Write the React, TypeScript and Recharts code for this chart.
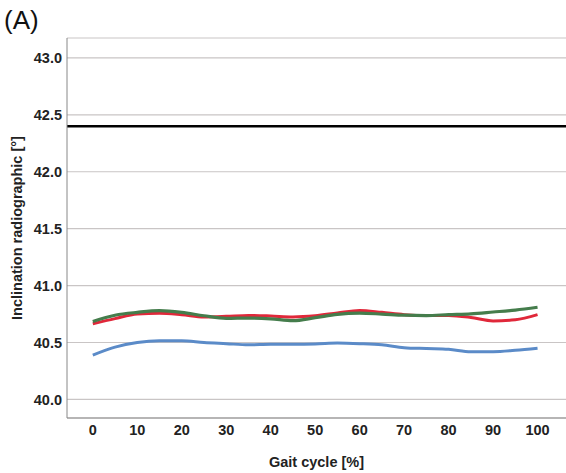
import React from 'react'
import { LineChart, Line, XAxis, YAxis, CartesianGrid, ReferenceLine } from 'recharts'

const gait = [0, 5, 10, 15, 20, 25, 30, 35, 40, 45, 50, 55, 60, 65, 70, 75, 80, 85, 90, 95, 100]
const blueSeries = [40.39, 40.46, 40.5, 40.515, 40.515, 40.5, 40.49, 40.48, 40.485, 40.485, 40.487, 40.495, 40.49, 40.48, 40.455, 40.447, 40.44, 40.418, 40.42, 40.432, 40.45]
const redSeries = [40.665, 40.71, 40.75, 40.758, 40.745, 40.725, 40.73, 40.738, 40.733, 40.725, 40.735, 40.76, 40.782, 40.765, 40.745, 40.737, 40.737, 40.72, 40.69, 40.7, 40.745]
const greenSeries = [40.685, 40.74, 40.765, 40.78, 40.765, 40.735, 40.712, 40.715, 40.708, 40.692, 40.718, 40.748, 40.758, 40.75, 40.74, 40.737, 40.745, 40.752, 40.768, 40.785, 40.81]
const referenceValue = 42.4
const yTicks = [40, 40.5, 41, 41.5, 42, 42.5, 43]
const xTicks = [0, 10, 20, 30, 40, 50, 60, 70, 80, 90, 100]

const rows = gait.map((g, i) => ({ gait: g, blue: blueSeries[i], red: redSeries[i], green: greenSeries[i] }))

const font = '"Liberation Sans", Arial, sans-serif'
const tickStyle = { fontFamily: font, fontSize: 14.5, fontWeight: 700, fill: '#222' }

export default function App() {
  return (
    <div style={{ position: 'absolute', left: 0, top: 0, width: 566, height: 473, background: '#fff' }}>
      <div style={{ position: 'absolute', left: 4, top: 5, fontFamily: font, fontSize: 26, color: '#111' }}>(A)</div>
      <LineChart width={566} height={473} data={rows} margin={{ top: 38, right: 0, bottom: 0, left: 0 }}>
        <CartesianGrid vertical={false} stroke="#c9c5c5" strokeWidth={1.2} />
        <XAxis
          dataKey="gait"
          type="number"
          domain={[-5.8, 106.4]}
          ticks={xTicks}
          allowDataOverflow
          height={55}
          tickLine={false}
          tickSize={5}
          stroke="#888"
          tick={tickStyle}
          label={{ value: 'Gait cycle [%]', position: 'insideBottom', offset: 6, style: tickStyle }}
        />
        <YAxis
          type="number"
          domain={[39.837, 43.175]}
          ticks={yTicks}
          allowDataOverflow
          width={67}
          tickLine={false}
          tickSize={3}
          stroke="#888"
          tick={tickStyle}
          tickFormatter={(v: number) => v.toFixed(1)}
          label={{ value: 'Inclination radiographic [°]', angle: -90, position: 'insideLeft', offset: 17, style: { ...tickStyle, textAnchor: 'middle' } }}
        />
        <ReferenceLine y={referenceValue} stroke="#000" strokeWidth={2.5} />
        <Line dataKey="blue" stroke="#5b8bc8" strokeWidth={3} dot={false} type="monotone" isAnimationActive={false} />
        <Line dataKey="red" stroke="#e0283a" strokeWidth={3} dot={false} type="monotone" isAnimationActive={false} />
        <Line dataKey="green" stroke="#457d4c" strokeWidth={3.2} dot={false} type="monotone" isAnimationActive={false} />
      </LineChart>
    </div>
  )
}
